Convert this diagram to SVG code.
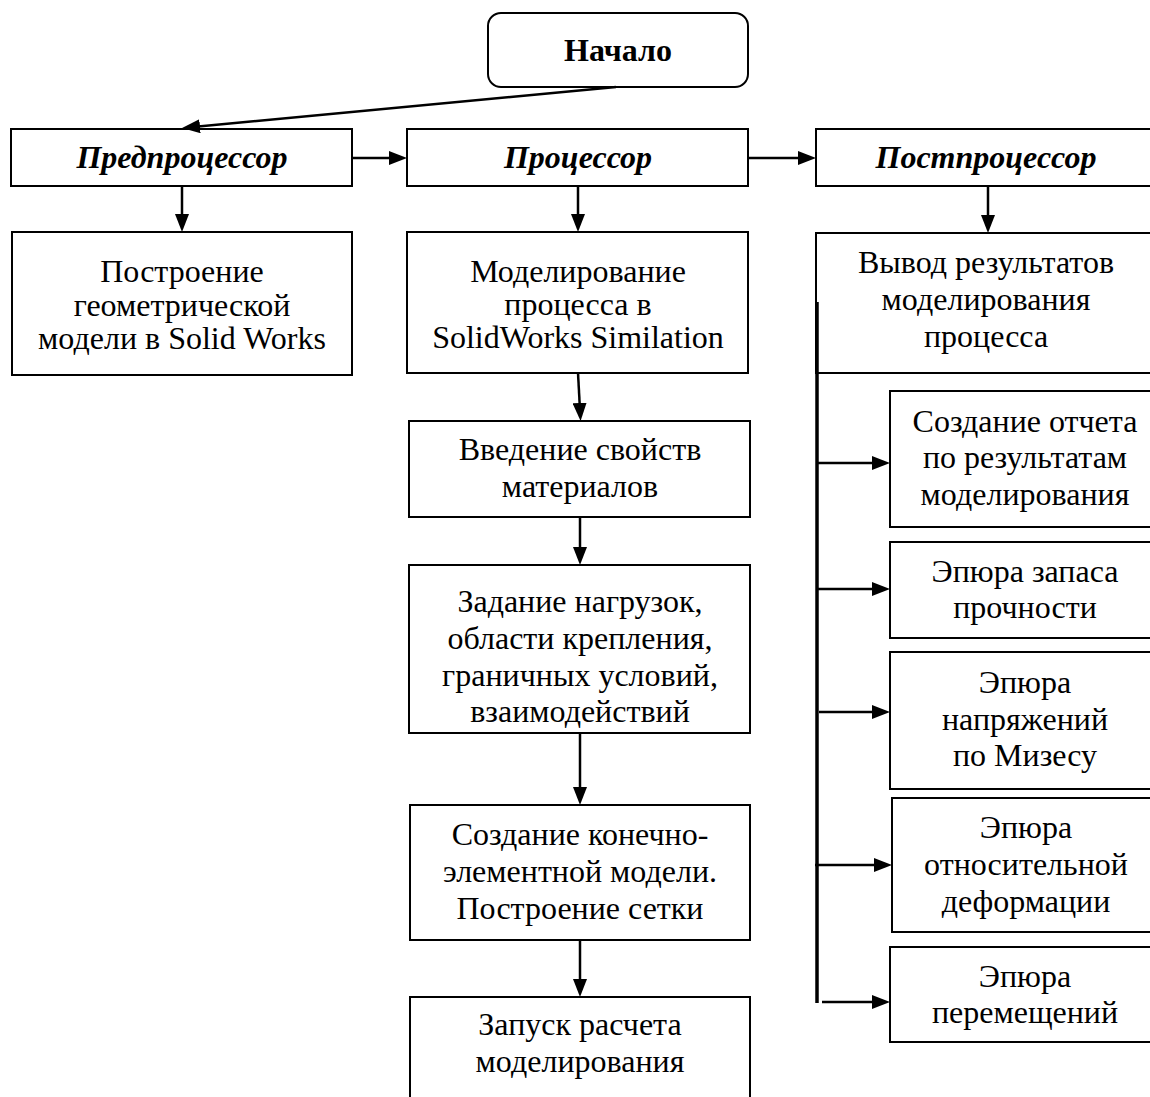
<svg xmlns="http://www.w3.org/2000/svg" width="1150" height="1097" viewBox="0 0 1150 1097">
<style>
.box{fill:#fff;stroke:#000;stroke-width:2}
.t{font-family:"Liberation Serif","Times New Roman",serif;font-size:32px;fill:#000;text-anchor:middle}
.h{font-weight:bold;font-style:italic}
.b{font-weight:bold}
.c{stroke:#000;stroke-width:2.5;fill:none}
.bus{stroke:#000;stroke-width:3.5;fill:none}
</style>
<defs>
<marker id="ah" markerWidth="18" markerHeight="14" refX="7" refY="7" orient="auto" markerUnits="userSpaceOnUse">
<path d="M0,0 L18,7 L0,14 z" fill="#000"/>
</marker>
</defs>
<rect width="1150" height="1097" fill="#fff"/>

<g id="start"><rect class="box" x="488" y="13" width="260" height="74" rx="13"/><text class="t b" x="618" y="61">Начало</text></g>
<g id="pre"><rect class="box" x="11" y="129" width="341" height="57"/><text class="t h" x="182" y="168">Предпроцессор</text></g>
<g id="proc"><rect class="box" x="407" y="129" width="341" height="57"/><text class="t h" x="578" y="168">Процессор</text></g>
<g id="post"><rect class="box" x="816" y="129" width="350" height="57"/><text class="t h" x="986" y="168">Постпроцессор</text></g>

<g id="geom"><rect class="box" x="12" y="232" width="340" height="143"/><text class="t"><tspan x="182" y="282">Построение</tspan><tspan x="182" y="316">геометрической</tspan><tspan x="182" y="349">модели в Solid Works</tspan></text></g>
<g id="model"><rect class="box" x="407" y="232" width="341" height="141"/><text class="t"><tspan x="578" y="282">Моделирование</tspan><tspan x="578" y="315">процесса в</tspan><tspan x="578" y="348">SolidWorks Similation</tspan></text></g>
<g id="out"><rect class="box" x="816" y="233" width="350" height="140"/><text class="t"><tspan x="986" y="273">Вывод результатов</tspan><tspan x="986" y="310">моделирования</tspan><tspan x="986" y="347">процесса</tspan></text></g>

<g id="mat"><rect class="box" x="409" y="421" width="341" height="96"/><text class="t"><tspan x="580" y="460">Введение свойств</tspan><tspan x="580" y="497">материалов</tspan></text></g>
<g id="load"><rect class="box" x="409" y="565" width="341" height="168"/><text class="t"><tspan x="580" y="612">Задание нагрузок,</tspan><tspan x="580" y="649">области крепления,</tspan><tspan x="580" y="686">граничных условий,</tspan><tspan x="580" y="722">взаимодействий</tspan></text></g>
<g id="mesh"><rect class="box" x="410" y="805" width="340" height="135"/><text class="t"><tspan x="580" y="845">Создание конечно-</tspan><tspan x="580" y="882">элементной модели.</tspan><tspan x="580" y="919">Построение сетки</tspan></text></g>
<g id="run"><rect class="box" x="410" y="997" width="340" height="120"/><text class="t"><tspan x="580" y="1035">Запуск расчета</tspan><tspan x="580" y="1072">моделирования</tspan></text></g>

<g id="report"><rect class="box" x="890" y="391" width="270" height="136"/><text class="t"><tspan x="1025" y="432">Создание отчета</tspan><tspan x="1025" y="468">по результатам</tspan><tspan x="1025" y="505">моделирования</tspan></text></g>
<g id="safety"><rect class="box" x="890" y="542" width="270" height="96"/><text class="t"><tspan x="1025" y="582">Эпюра запаса</tspan><tspan x="1025" y="618">прочности</tspan></text></g>
<g id="stress"><rect class="box" x="890" y="652" width="270" height="137"/><text class="t"><tspan x="1025" y="693">Эпюра</tspan><tspan x="1025" y="730">напряжений</tspan><tspan x="1025" y="766">по Мизесу</tspan></text></g>
<g id="strain"><rect class="box" x="892" y="798" width="268" height="134"/><text class="t"><tspan x="1026" y="838">Эпюра</tspan><tspan x="1026" y="875">относительной</tspan><tspan x="1026" y="912">деформации</tspan></text></g>
<g id="disp"><rect class="box" x="890" y="947" width="270" height="95"/><text class="t"><tspan x="1025" y="987">Эпюра</tspan><tspan x="1025" y="1023">перемещений</tspan></text></g>

<g id="connectors">
<line class="c" x1="616" y1="87" x2="193" y2="127" marker-end="url(#ah)"/>
<line class="c" x1="352" y1="158" x2="396" y2="158" marker-end="url(#ah)"/>
<line class="c" x1="748" y1="158" x2="805" y2="158" marker-end="url(#ah)"/>
<line class="c" x1="182" y1="186" x2="182" y2="221" marker-end="url(#ah)"/>
<line class="c" x1="578" y1="186" x2="578" y2="221" marker-end="url(#ah)"/>
<line class="c" x1="988" y1="186" x2="988" y2="222" marker-end="url(#ah)"/>
<line class="c" x1="578" y1="373" x2="580" y2="410" marker-end="url(#ah)"/>
<line class="c" x1="580" y1="517" x2="580" y2="554" marker-end="url(#ah)"/>
<line class="c" x1="580" y1="733" x2="580" y2="794" marker-end="url(#ah)"/>
<line class="c" x1="580" y1="940" x2="580" y2="986" marker-end="url(#ah)"/>
<line class="bus" x1="817" y1="302" x2="817" y2="1003"/>
<line class="c" x1="817" y1="463" x2="879" y2="463" marker-end="url(#ah)"/>
<line class="c" x1="817" y1="589" x2="879" y2="589" marker-end="url(#ah)"/>
<line class="c" x1="819" y1="712" x2="879" y2="712" marker-end="url(#ah)"/>
<line class="c" x1="815" y1="865" x2="881" y2="865" marker-end="url(#ah)"/>
<line class="c" x1="822" y1="1002" x2="879" y2="1002" marker-end="url(#ah)"/>
</g>
</svg>
